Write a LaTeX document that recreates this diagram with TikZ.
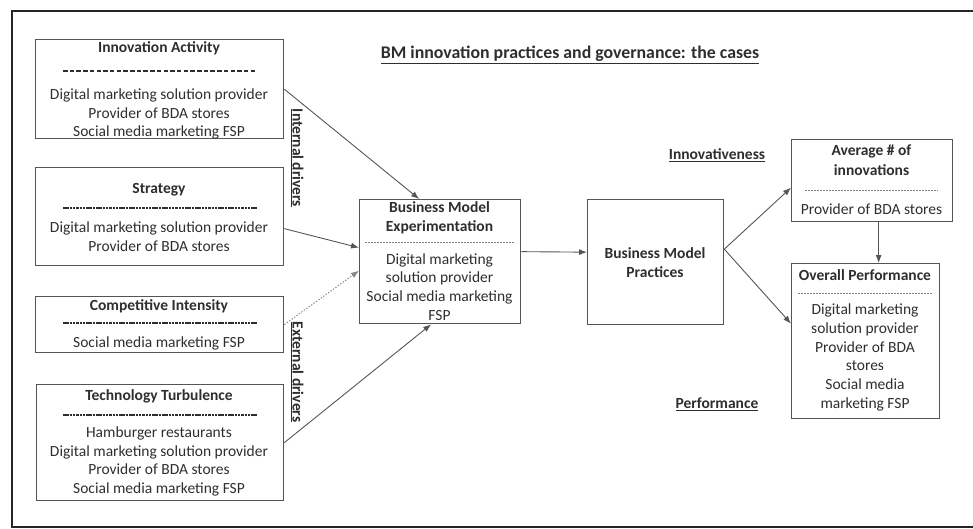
\documentclass[tikz,border=0pt]{standalone}
\usepackage{fontspec}
\setmainfont{Carlito}
\usetikzlibrary{arrows.meta,calc}
\definecolor{txt}{HTML}{2E2E2E}
\definecolor{ln}{HTML}{555555}
\begin{document}
\begin{tikzpicture}[x=1pt,y=-1pt,
  every node/.style={text=txt, font=\fontsize{15.5}{18.7}\selectfont},
  box/.style={draw=ln, line width=1.3pt, inner sep=0pt, anchor=north west},
  body/.style={align=center, inner sep=0pt},
  ttl/.style={font=\fontsize{15.5}{19.5}\selectfont\bfseries, align=center, inner sep=0pt},
  hsep/.style={draw=txt, line width=1.6pt, dash pattern=on 4.5pt off 2.2pt},
  sep/.style={draw=txt, line width=1.3pt, dash pattern=on 2.5pt off 0.8pt},
  sepl/.style={draw=ln!75, line width=0.6pt, dash pattern=on 2pt off 1pt},
  arr/.style={draw=ln, line width=0.9pt, -{Latex[length=8pt,width=6pt]}},
  lbl/.style={font=\fontsize{15.5}{18.7}\selectfont\bfseries, inner sep=0pt},
]
\useasboundingbox (0,0) rectangle (973,528);
\draw[line width=2pt, black!85] (973,11) -- (12,11) -- (12,527) -- (973,527);

% boxes
\node[box, minimum width=248pt, minimum height=99pt] (ia) at (35,39) {};
\node[box, minimum width=248pt, minimum height=98pt] (st) at (35,167) {};
\node[box, minimum width=248pt, minimum height=56pt] (ci) at (35,296) {};
\node[box, minimum width=247pt, minimum height=116pt] (tt) at (36,384) {};
\node[box, minimum width=161pt, minimum height=124pt] (bme) at (359,199) {};
\node[box, minimum width=136pt, minimum height=125pt] (bmp) at (587,199) {};
\node[box, minimum width=161pt, minimum height=82pt] (avg) at (791,139) {};
\node[box, minimum width=148pt, minimum height=155pt] (op) at (791,263) {};

% Innovation Activity
\node[ttl] (iat) at (159,48) {Innovation Activity};
\draw[hsep] (63,71) -- (257,71);
\node[body] (iab) at (159,114) {Digital marketing solution provider\\Provider of BDA stores\\Social media marketing FSP};

% Strategy
\node[ttl] (stt) at (159,190) {Strategy};
\draw[sep] (63,208) -- (257,208);
\node[body] (stb) at (159,236.5) {Digital marketing solution provider\\Provider of BDA stores};

% Competitive Intensity
\node[ttl] (cit) at (159,306) {Competitive Intensity};
\draw[sep] (63,323) -- (257,323);
\node[body] (cib) at (159,343) {Social media marketing FSP};

% Technology Turbulence
\node[ttl] (ttt) at (159,396) {Technology Turbulence};
\draw[sep] (63,415) -- (257,415);
\node[body] (ttb) at (159,461.5) {Hamburger restaurants\\Digital marketing solution provider\\Provider of BDA stores\\Social media marketing FSP};

% BME
\node[ttl] (bmet) at (439.5,218) {Business Model\\Experimentation};
\draw[sepl] (365,242) -- (514,242);
\node[body] (bmeb) at (439.5,287) {Digital marketing\\solution provider\\Social media marketing\\FSP};

% BMP
\node[ttl] (bmpt) at (655,262.5) {Business Model\\Practices};

% Average
\node[ttl] (avgt) at (871.5,160) {Average \# of\\innovations};
\draw[sepl] (805,190) -- (938,190);
\node[body] (avgb) at (871.5,209) {Provider of BDA stores};

% Overall performance
\node[ttl] (opt) at (865,275) {Overall Performance};
\draw[sepl] (798,293) -- (933,293);
\node[body] (opb) at (865,357.5) {Digital marketing\\solution provider\\Provider of BDA\\stores\\Social media\\marketing FSP};

% labels
\node[lbl, font=\fontsize{17.8}{20}\selectfont\bfseries] (title) at (570,55) {\underline{BM innovation practices and governance: the cases}};
\node[lbl] (innov) at (717,155) {\underline{Innovativeness}};
\node[lbl] (perf) at (717,404) {\underline{Performance}};
\node[lbl, rotate=-90] (intd) at (297,158) {\underline{Internal drivers}};
\node[lbl, rotate=-90] (extd) at (297,372) {\underline{External drivers}};

% arrows
\draw[arr] (ia.east) -- ([xshift=-21pt]bme.north);
\draw[arr] ([yshift=-12pt]st.east) -- ([yshift=14pt]bme.west);
\draw[arr, draw=ln!70, dash pattern=on 1.5pt off 1.5pt] (ci.east) -- ([yshift=-9pt]bme.west);
\draw[arr] (tt.east) -- ([xshift=-9pt]bme.south);
\draw[arr] ([yshift=10pt]bme.east) -- ([yshift=10pt]bmp.west);
\coordinate (bmpo) at ([yshift=13pt]bmp.east);
\draw[arr] (bmpo) -- ([yshift=-7pt]avg.west);
\draw[arr] (bmpo) -- ([yshift=17.5pt]op.west);
\draw[arr] ([xshift=6.5pt]avg.south) -- ([xshift=6.5pt]avg.south |- op.north);
\end{tikzpicture}
\end{document}
